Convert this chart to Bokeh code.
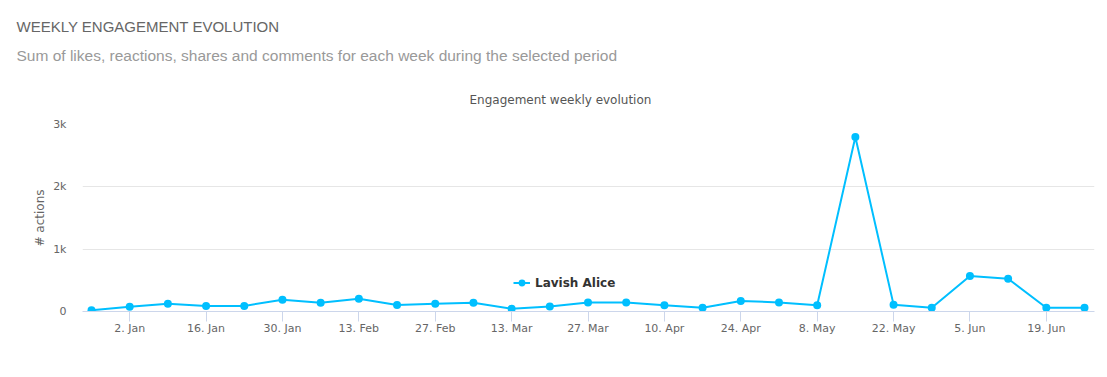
import pandas as pd
from bokeh.plotting import figure
from bokeh.models import (Title, FixedTicker, CustomJSTickFormatter, Range1d,
                          ColumnDataSource, Legend, LegendItem)
from bokeh.embed import file_html
from bokeh.resources import INLINE

# ---------------- data ----------------
week_start = ["2016-12-26", "2017-01-02", "2017-01-09", "2017-01-16", "2017-01-23",
              "2017-01-30", "2017-02-06", "2017-02-13", "2017-02-20", "2017-02-27",
              "2017-03-06", "2017-03-13", "2017-03-20", "2017-03-27", "2017-04-03",
              "2017-04-10", "2017-04-17", "2017-04-24", "2017-05-01", "2017-05-08",
              "2017-05-15", "2017-05-22", "2017-05-29", "2017-06-05", "2017-06-12",
              "2017-06-19", "2017-06-26"]
actions = [20, 75, 125, 90, 90, 190, 140, 205, 105, 125,
           140, 45, 80, 145, 145, 100, 60, 170, 145, 100,
           2800, 110, 60, 570, 525, 60, 60]
series_name = "Lavish Alice"

x_tick_dates = ["2017-01-02", "2017-01-16", "2017-01-30", "2017-02-13", "2017-02-27",
                "2017-03-13", "2017-03-27", "2017-04-10", "2017-04-24", "2017-05-08",
                "2017-05-22", "2017-06-05", "2017-06-19"]
x_tick_labels = ["2. Jan", "16. Jan", "30. Jan", "13. Feb", "27. Feb", "13. Mar",
                 "27. Mar", "10. Apr", "24. Apr", "8. May", "22. May", "5. Jun", "19. Jun"]
y_ticks = [0, 1000, 2000, 3000]
y_tick_labels = ["0", "1k", "2k", "3k"]

title_text = "WEEKLY ENGAGEMENT EVOLUTION"
subtitle_text = "Sum of likes, reactions, shares and comments for each week during the selected period"
chart_title = "Engagement weekly evolution"
y_axis_title = "# actions"

# ---------------- figure ----------------
W, H = 1107, 377
FL, FR, FT, FB = 82, 1094, 124, 311   # frame edges in canvas px

dates = pd.to_datetime(week_start)
src = ColumnDataSource(dict(x=dates, y=actions))

def ms(ts):
    return ts.value / 1e6

x_start = ms(dates[0] - pd.Timedelta(days=1.65))
x_end = ms(dates[-1] + pd.Timedelta(days=1.83))

p = figure(width=W, height=H, output_backend="svg", toolbar_location=None,
           x_range=Range1d(x_start, x_end), y_range=Range1d(0, 3000),
           x_axis_type="datetime",
           min_border_left=FL, min_border_right=W - FR,
           min_border_top=FT, min_border_bottom=H - FB)
p.outline_line_color = None
p.background_fill_color = "white"
p.border_fill_color = "white"

FONT = "DejaVu Sans"
LINE_COLOR = "#00BFFF"

# x axis
tick_ms = [ms(pd.Timestamp(d)) for d in x_tick_dates]
p.xaxis.ticker = FixedTicker(ticks=tick_ms)
p.xaxis.formatter = CustomJSTickFormatter(args=dict(tick_vals=tick_ms, tick_texts=x_tick_labels), code="""
    for (let i = 0; i < tick_vals.length; i++) {
        if (Math.abs(tick_vals[i] - tick) < 1000) { return tick_texts[i]; }
    }
    return "";
""")
p.xaxis.axis_line_color = "#ccd6eb"
p.xaxis.major_tick_line_color = "#ccd6eb"
p.xaxis.major_tick_out = 10
p.xaxis.major_tick_in = 0
p.xaxis.minor_tick_line_color = None
p.xaxis.major_label_standoff = 0
p.xaxis.major_label_text_font = FONT
p.xaxis.major_label_text_font_size = "11px"
p.xaxis.major_label_text_color = "#666666"

# y axis
p.yaxis.ticker = FixedTicker(ticks=y_ticks)
p.yaxis.major_label_overrides = {t: l for t, l in zip(y_ticks, y_tick_labels)}
p.yaxis.axis_line_color = None
p.yaxis.major_tick_line_color = None
p.yaxis.minor_tick_line_color = None
p.yaxis.major_tick_out = 0
p.yaxis.major_tick_in = 0
p.yaxis.major_label_standoff = 16
p.yaxis.major_label_text_font = FONT
p.yaxis.major_label_text_font_size = "11px"
p.yaxis.major_label_text_color = "#666666"
p.yaxis.axis_label = y_axis_title
p.yaxis.axis_label_standoff = 3
p.yaxis.axis_label_text_font = FONT
p.yaxis.axis_label_text_font_size = "12px"
p.yaxis.axis_label_text_font_style = "normal"
p.yaxis.axis_label_text_color = "#666666"

p.xgrid.grid_line_color = None
p.ygrid.grid_line_color = "#e6e6e6"
p.ygrid.grid_line_width = 1

# series
ln = p.line("x", "y", source=src, line_color=LINE_COLOR, line_width=2)
sc = p.scatter("x", "y", source=src, size=8, fill_color=LINE_COLOR, line_color=None)

# legend (inside the frame, bottom centre, clear of the data)
legend = Legend(items=[LegendItem(label=series_name, renderers=[ln, sc])],
                location=(513 - FL, 20), orientation="horizontal",
                padding=0, margin=0, spacing=0,
                glyph_width=17, glyph_height=17, label_standoff=5,
                label_text_font=FONT, label_text_font_size="12px",
                label_text_font_style="bold", label_text_color="#333333",
                border_line_color=None, background_fill_alpha=0)
p.add_layout(legend, "center")

# titles (first added sits closest to the frame)
p.add_layout(Title(text=chart_title, align="left", offset=469 - FL,
                   text_font=FONT, text_font_size="12px", text_font_style="normal",
                   text_color="#555555", standoff=35), "above")
p.add_layout(Title(text=subtitle_text, align="left", offset=16 - FL,
                   text_font="Liberation Sans", text_font_size="15.5px",
                   text_font_style="normal", text_color="#999999", standoff=20), "above")
p.add_layout(Title(text=title_text, align="left", offset=16 - FL,
                   text_font="Liberation Sans", text_font_size="15px",
                   text_font_style="normal", text_color="#666666", standoff=0), "above")

open("out.html", "w").write(file_html(p, INLINE))
